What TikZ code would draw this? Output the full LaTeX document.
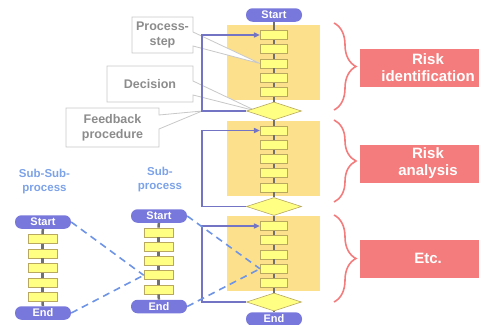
\documentclass[tikz,border=0pt]{standalone}
\usepackage{fontspec}
\setmainfont{Liberation Sans}
\usepackage{tikz}
\usetikzlibrary{shapes.geometric,shapes.callouts,decorations.pathreplacing,arrows.meta}
\definecolor{pillblue}{HTML}{7878DC}
\definecolor{loopblue}{HTML}{7474C4}
\definecolor{dashblue}{HTML}{6E94E6}
\definecolor{bgyellow}{HTML}{FCE08C}
\definecolor{boxyellow}{HTML}{FFFF84}
\definecolor{boxline}{HTML}{B8A860}
\definecolor{spinegray}{HTML}{707070}
\definecolor{notegray}{HTML}{8C8C8C}
\definecolor{noteline}{HTML}{C8C8C8}
\definecolor{riskred}{HTML}{F47C7C}
\definecolor{labelblue}{HTML}{7CA2E8}
\pgfdeclarelayer{back}
\pgfdeclarelayer{mid}
\pgfsetlayers{back,mid,main}

\begin{document}
\begin{tikzpicture}[x=1pt,y=-1pt,
	pill/.style={rectangle,rounded corners=6.5pt,fill=pillblue,text=white,font=\fontsize{11}{12}\selectfont\bfseries,minimum width=56pt,minimum height=13.5pt,inner sep=0pt},
	stepbox/.style={rectangle,draw=boxline,line width=0.6pt,fill=boxyellow,minimum width=27.5pt,minimum height=9pt,inner sep=0pt},
	decide/.style={diamond,draw=boxline,line width=0.6pt,fill=boxyellow,minimum width=55pt,minimum height=18pt,inner sep=0pt},
	spine/.style={spinegray,line width=2.5pt},
	fb/.style={loopblue,line width=1.6pt,-{Triangle[length=6pt,width=5pt]}},
	sublink/.style={dashblue,line width=1.6pt,dash pattern=on 7pt off 5pt},
	note/.style={rectangle callout,draw=noteline,line width=0.8pt,fill=white,text=notegray,font=\fontsize{12.5}{15}\selectfont\bfseries,align=center,inner sep=0pt,callout pointer width=14pt},
	risk/.style={rectangle,fill=riskred,text=white,font=\fontsize{15}{17}\selectfont\bfseries,align=center,minimum width=136pt,minimum height=38pt,inner sep=0pt},
	bracket/.style={riskred,line width=1.6pt,decorate,decoration={brace,amplitude=22pt,aspect=0.5}},
	sublabel/.style={text=labelblue,font=\fontsize{11.5}{14}\selectfont\bfseries,align=center}]
	\useasboundingbox (0,0) rectangle (479,324);
	\clip (0,0) rectangle (479,324);
	% yellow phases
	\begin{pgfonlayer}{back}
		\foreach \k in {1,2,3}
			\fill[bgyellow] (227,{25+95.5*(\k-1)}) rectangle (320,{100+95.5*(\k-1)});
	\end{pgfonlayer}
	% main process
	\node[pill] (start) at (274,15) {Start};
	\foreach \k in {1,2,3} {
		\foreach \i in {1,...,5}
			\node[stepbox] (m\k-\i) at (274,{35+95.5*(\k-1)+14.25*(\i-1)}) {};
		\node[decide] (d\k) at (274,{111+95.5*(\k-1)}) {};
	}
	\node[pill] (end) at (274,319) {End};
	\draw[spine] (start) -- (m1-1);
	\foreach \k in {1,2,3} {
		\foreach \i [count=\j from 2] in {1,...,4}
			\draw[spine] (m\k-\i) -- (m\k-\j);
		\draw[spine] (m\k-5) -- (d\k);
	}
	\draw[spine] (d1) -- (m2-1);
	\draw[spine] (d2) -- (m3-1);
	\draw[spine] (d3) -- (end);
	\foreach \k in {1,2,3}
		\draw[fb] (d\k.west) -- ++(-44,0) coordinate (c\k) |- (m\k-1.west);
	% notes
	\begin{pgfonlayer}{mid}
		\node[note,minimum width=61pt,minimum height=36pt,callout absolute pointer={(m1-3.west)}] (n1) at (162.5,35) {Process-\\step};
		\node[note,minimum width=86pt,minimum height=36pt,callout absolute pointer={([xshift=10pt]d1.west)}] (n2) at (150,84) {Decision};
		\node[note,minimum width=93pt,minimum height=39pt,callout absolute pointer={(c1)}] (n3) at (112.5,127.5) {Feedback\\procedure};
	\end{pgfonlayer}
	% phases
	\node[risk] (r1) at (428,68) {Risk\\identification};
	\node[risk] (r2) at (428,163.5) {Risk\\analysis};
	\node[risk] (r3) at (428,258.5) {Etc.};
	\draw[bracket] (334,23) -- (334,110);
	\draw[bracket] (334,120) -- (334,202);
	\draw[bracket] (334,215) -- (334,302);
	% sub processes
	\node[sublabel] (lss) at (44.5,182) {Sub-Sub-\\process};
	\node[sublabel] (ls) at (160,180) {Sub-\\process};
	\node[pill] (ss-start) at (43,222) {Start};
	\foreach \i in {1,...,5}
		\node[stepbox,minimum width=29pt] (ss\i) at (42.5,{239+14.5*(\i-1)}) {};
	\node[pill] (ss-end) at (43,313) {End};
	\node[pill] (s-start) at (159,216) {Start};
	\foreach \i in {1,...,5}
		\node[stepbox,minimum width=29pt] (s\i) at (158.5,{232.5+14.25*(\i-1)}) {};
	\node[pill] (s-end) at (159,306.5) {End};
	\foreach \c in {ss,s} {
		\draw[spine] (\c-start) -- (\c1);
		\foreach \i [count=\j from 2] in {1,...,4}
			\draw[spine] (\c\i) -- (\c\j);
		\draw[spine] (\c5) -- (\c-end);
	}
	\draw[sublink] (ss-start.east) -- (s4.west);
	\draw[sublink] (ss-end.east) -- (s4.west);
	\draw[sublink] (s-start.east) -- (m3-4.west);
	\draw[sublink] (s-end.east) -- (m3-4.west);
\end{tikzpicture}
\end{document}
